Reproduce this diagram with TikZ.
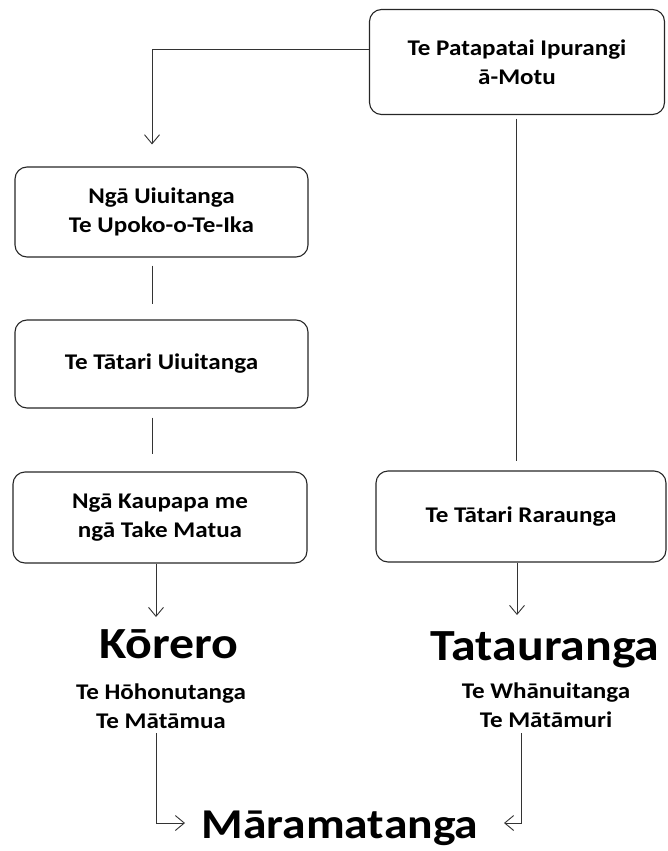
\documentclass[tikz,border=0pt]{standalone}
\usepackage{fontspec}
\setmainfont{Carlito}[FakeStretch=1.12]
\usetikzlibrary{arrows.meta,calc}
\begin{document}
\begin{tikzpicture}[x=1pt,y=-1pt,
  box/.style={draw=black!85, line width=1.1pt, rounded corners=12pt, align=center,
    font=\bfseries\fontsize{22.4}{28.5}\selectfont, inner sep=0pt},
  ln/.style={draw=black!80, line width=0.9pt},
  arr/.style={ln, -{Straight Barb[length=9pt,width=15pt]}},
  big/.style={font=\bfseries\fontsize{44.5}{50}\selectfont, inner sep=0pt, anchor=base},
  small/.style={font=\bfseries\fontsize{22.4}{29}\selectfont, inner sep=0pt, anchor=base},
]
\useasboundingbox (0,0) rectangle (667,851);
\node[box, minimum width=295pt, minimum height=105pt] (top) at (517,62) {Te Patapatai Ipurangi\\ā-Motu};
\node[box, minimum width=293pt, minimum height=90pt] (b2) at (161.5,212) {Ngā Uiuitanga\\Te Upoko-o-Te-Ika};
\node[box, minimum width=293pt, minimum height=88pt] (b3) at (161.5,364) {Te Tātari Uiuitanga};
\node[box, minimum width=294pt, minimum height=91pt] (b4) at (160,517.5) {Ngā Kaupapa me\\ngā Take Matua};
\node[box, minimum width=290pt, minimum height=91pt] (b5) at (521,516.5) {Te Tātari Raraunga};
\node[big] (kor) at (169,658) {Kōrero};
\node[big] (tat) at (545,660) {Tatauranga};
\node[small] (s1a) at (161,699) {Te Hōhonutanga};
\node[small] (s1b) at (161,728) {Te Mātāmua};
\node[small] (s2a) at (546,698) {Te Whānuitanga};
\node[small] (s2b) at (546,727) {Te Mātāmuri};
\node[big, font=\bfseries\fontsize{42.5}{50}\selectfont] (mara) at (340,838) {Māramatanga};
\draw[arr] ([yshift=13pt]top.west) -| ([xshift=-9.5pt,yshift=22pt]b2.north);
\draw[ln] ([xshift=-9.5pt,yshift=-8pt]b2.south) -- ([xshift=-9.5pt,yshift=15pt]b3.north);
\draw[ln] ([xshift=-9.5pt,yshift=-9pt]b3.south) -- ([xshift=-8pt,yshift=17pt]b4.north);
\draw[ln] ([xshift=-1pt,yshift=-3.5pt]top.south) -- ([xshift=-5pt,yshift=9pt]b5.north);
\draw[arr] ([xshift=-4pt]b4.south) -- ([xshift=-13pt,yshift=41pt]kor.base);
\draw[arr] ([xshift=-4pt]b5.south) -- ([xshift=-28pt,yshift=45pt]tat.base);
\draw[arr] ([xshift=-5pt,yshift=-5pt]s1b.base) |- ([xshift=-155pt,yshift=15pt]mara.base);
\draw[arr] ([xshift=-25pt,yshift=-6pt]s2b.base) |- ([xshift=164pt,yshift=15pt]mara.base);
\end{tikzpicture}
\end{document}
